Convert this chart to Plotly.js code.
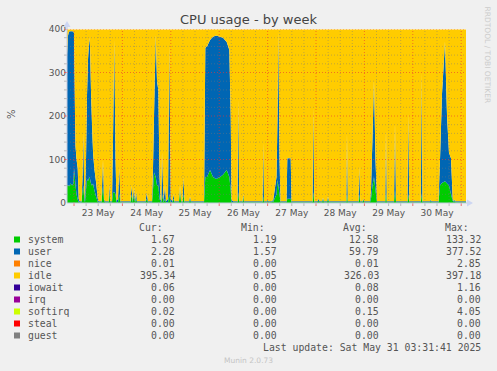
<!DOCTYPE html>
<html><head><meta charset="utf-8">
<script src="https://cdn.plot.ly/plotly-3.0.1.min.js"></script>
<style>html,body{margin:0;padding:0;background:#F0F0F0;}#chart{width:497px;height:371px;}</style>
</head><body><div id="chart"></div>
<script>
// time in fractional days of May 2025
const dayT = [
22.855,22.876,22.897,22.928,22.959,22.986,23.000,23.021,23.031,23.052,23.076,23.097,23.114,23.155,
23.176,23.192,23.211,23.227,23.248,23.269,23.289,23.316,23.331,23.351,23.372,23.393,23.419,23.455,23.490,
23.506,23.568,23.589,23.599,23.620,23.640,23.713,23.729,23.748,23.785,23.806,23.833,23.857,23.878,23.909,
23.936,23.961,24.167,24.188,24.209,24.240,24.260,24.285,24.302,24.477,24.502,24.529,24.612,24.632,24.653,
24.688,24.715,24.742,24.767,24.787,24.804,24.818,24.849,24.880,24.901,24.942,24.969,24.998,25.035,25.052,
25.076,25.169,25.190,25.211,25.242,25.262,25.283,25.376,25.397,25.417,25.686,25.713,25.748,25.810,25.872,
25.934,26.017,26.078,26.155,26.209,26.238,26.254,26.285,26.378,26.395,26.413,26.481,26.498,26.512,26.895,
26.911,26.926,26.988,26.998,27.019,27.081,27.091,27.112,27.184,27.205,27.221,27.246,27.267,27.391,27.407,
27.477,27.494,27.928,27.944,27.963,28.031,28.052,28.072,28.124,28.145,28.165,28.227,28.248,28.269,28.626,
28.640,28.657,28.878,28.895,28.913,28.961,28.977,28.996,29.116,29.136,29.167,29.198,29.229,29.260,29.430,
29.446,29.463,29.612,29.632,29.653,29.890,29.907,29.926,30.165,30.184,30.200,30.355,30.370,30.386,30.531,
30.562,30.603,30.665,30.707,30.748,30.789,30.824,30.845,30.872,30.882,31.099
];
const systemVals = [
40,42,38,45,40,45,80,55,40,20,8,2,1.5,1.5,
30,40,10,2,30,55,50,60,55,45,40,45,30,15,3,
1.5,1.5,30,40,5,1.5,1.5,25,1.5,1.5,25,25,20,2,2,
20,1.5,1.5,20,1.5,20,1.5,10,1.5,1.5,10,1.5,1.5,30,70,
60,40,40,10,2,1.5,20,1.5,10,1.5,2,20,2,1.5,10,
1.5,1.5,30,1.5,1.5,20,1.5,1.5,8,1.5,1.5,60,60,76,60,
55,60,65,76,60,30,2,1.5,1.5,25,1.5,1.5,15,1.5,1.5,
15,1.5,1.5,5,1.5,1.5,5,1.5,20,53,40,20,1.5,1.5,10,
10,1.5,1.5,25,1.5,1.5,5,1.5,1.5,8,1.5,1.5,10,1.5,1.5,
20,1.5,1.5,20,1.5,1.5,8,1.5,1.5,10,40,60,30,1.5,1.5,
25,1.5,1.5,30,1.5,1.5,20,1.5,1.5,20,1.5,1.5,5,1.5,1.5,
40,46,50,45,40,20,5,1.5,5,1.5,1.5
];
const userVals = [
300,343,356,350,355,349,310,145,90,80,72,8,2.3,2.3,
30,120,20,3,70,195,280,320,305,210,140,72,50,33,8,
2.3,2.3,40,59,5,2.3,2.3,16,2.3,2.3,125,350,80,3,8,
60,2.3,2.3,20,2.3,15,2.3,15,2.3,2.3,13,2.3,2.3,50,130,
326,240,220,50,6,2.3,97,2.3,30,2.3,8,343,8,2.3,10,
2.3,2.3,10,2.3,2.3,40,2.3,2.3,7,2.3,2.3,297,300,299,322,
330,322,315,294,292,170,6,2.3,2.3,212,2.3,2.3,5,2.3,2.3,
123,2.3,2.3,3,2.3,2.3,3,2.3,40,147,354,80,2.3,2.3,93,
93,2.3,2.3,193,2.3,2.3,5,2.3,2.3,4,2.3,2.3,5,2.3,2.3,
141,2.3,2.3,63,2.3,2.3,2,2.3,2.3,20,110,223,70,2.3,2.3,
143,2.3,2.3,154,2.3,2.3,185,2.3,2.3,280,2.3,2.3,3,2.3,2.3,
60,204,321,155,75,83,5,2.3,3,2.3,2.3
];
const idleVals = [
59,14,5,4,4,5,9,199,269,299,319,389,395.3,395.3,
339,239,369,394,299,149,69,19,39,144,219,282,319,351,388,
395.3,395.3,329,300,389,395.3,395.3,358,395.3,395.3,249,24,299,394,389,
319,395.3,395.3,359,395.3,364,395.3,374,395.3,395.3,376,395.3,395.3,319,199,
13,119,139,339,391,395.3,282,395.3,359,395.3,389,36,389,395.3,379,
395.3,395.3,359,395.3,395.3,339,395.3,395.3,384,395.3,395.3,42,39,24,17,
14,17,19,29,47,199,391,395.3,395.3,162,395.3,395.3,379,395.3,395.3,
261,395.3,395.3,391,395.3,395.3,391,395.3,339,199,5,299,395.3,395.3,296,
296,395.3,395.3,181,395.3,395.3,389,395.3,395.3,387,395.3,395.3,384,395.3,395.3,
238,395.3,395.3,316,395.3,395.3,389,395.3,395.3,369,249,116,299,395.3,395.3,
231,395.3,395.3,215,395.3,395.3,194,395.3,395.3,99,395.3,395.3,391,395.3,395.3,
299,149,28,199,284,296,389,395.3,391,395.3,395.3
];

const dayTickVals = [23.5,24.5,25.5,26.5,27.5,28.5,29.5,30.5];
const dayTickText = ['23 May','24 May','25 May','26 May','27 May','28 May','29 May','30 May'];
const yTickVals = [0,100,200,300,400];
const yTickText = ['0','100','200','300','400'];

const seriesNames = ['system','user','nice','idle','iowait','irq','softirq','steal','guest'];
const seriesColors = ['#00CC00','#0066B3','#FF8000','#FFCC00','#330099','#990099','#CCFF00','#FF0000','#808080'];
const curVals = [1.67,2.28,0.01,395.34,0.06,0.00,0.02,0.00,0.00];
const minVals = [1.19,1.57,0.00,0.05,0.00,0.00,0.00,0.00,0.00];
const avgVals = [12.58,59.79,0.01,326.03,0.08,0.00,0.15,0.00,0.00];
const maxVals = [133.32,377.52,2.85,397.18,1.16,0.00,4.05,0.00,0.00];

// plot-area geometry (pixels)
const L = 67, R = 466, T = 29, B = 203, W = R - L, H = B - T;
const P = px => (px - L) / W;
const Q = py => (B - py) / H;
const X0 = 22.855, X1 = 31.099;

const stackSeries = [
  {name:'system', y:systemVals, color:'#00CC00'},
  {name:'user', y:userVals, color:'#0066B3'},
  {name:'idle', y:idleVals, color:'#FFCC00'}
];
const traces = stackSeries.map(s => ({
  type:'scatter', x:dayT, y:s.y, name:s.name, stackgroup:'cpu', mode:'none',
  fillcolor:s.color, line:{width:0}, hoverinfo:'skip', showlegend:false
}));

const shapes = [];
const minorCol = 'rgba(120,120,120,0.45)';
const majorCol = 'rgba(235,50,50,0.6)';
const dotDash = '1px,2px';
// vertical grid
for (let q = Math.ceil(X0*4); q/4 <= X1; q++) {
  const t = q/4, major = (q % 4 === 0);
  shapes.push({type:'line', xref:'x', yref:'y', x0:t, x1:t, y0:0, y1:400, layer:'above',
    line:{color: major ? majorCol : minorCol, width:1, dash:dotDash}});
  shapes.push({type:'line', xref:'x', yref:'paper', x0:t, x1:t, y0:0, y1:-3/H, layer:'above',
    line:{color: major ? 'rgba(235,80,80,0.8)' : 'rgba(150,150,150,0.6)', width:1}});
}
// horizontal grid
for (let v = 20; v <= 400; v += 20) {
  const major = (v % 100 === 0);
  shapes.push({type:'line', xref:'paper', yref:'y', x0:0, x1:1, y0:v, y1:v, layer:'above',
    line:{color: major ? majorCol : minorCol, width:1, dash:dotDash}});
  shapes.push({type:'line', xref:'paper', yref:'y', x0:-3/W, x1:0, y0:v, y1:v, layer:'above',
    line:{color: major ? 'rgba(235,80,80,0.8)' : 'rgba(150,150,150,0.6)', width:1}});
}
// axes lines and arrows
const axCol = '#c4cbe0';
shapes.push({type:'line', xref:'paper', yref:'paper', x0:0, x1:P(468), y0:0, y1:0, layer:'above', line:{color:axCol, width:1}});
shapes.push({type:'line', xref:'paper', yref:'paper', x0:0, x1:0, y0:0, y1:Q(25), layer:'above', line:{color:axCol, width:1}});
shapes.push({type:'path', xref:'paper', yref:'paper', layer:'above', fillcolor:'#cdd6f2', line:{width:0},
  path:`M ${P(63.5)},${Q(27)} L ${P(70.5)},${Q(27)} L ${P(67)},${Q(21)} Z`});
shapes.push({type:'path', xref:'paper', yref:'paper', layer:'above', fillcolor:'#cdd6f2', line:{width:0},
  path:`M ${P(467)},${Q(199.5)} L ${P(467)},${Q(206.5)} L ${P(473)},${Q(203)} Z`});

// legend table
const annotations = [];
const monoFont = {family:'DejaVu Sans Mono', size:9.8, color:'#555555'};
const ann = (text, px, py, xanchor, font, extra) => Object.assign({
  xref:'paper', yref:'paper', x:P(px), y:Q(py), text, showarrow:false,
  xanchor, yanchor:'middle', font, borderpad:0
}, extra || {});
const colRight = [175.7, 278, 380, 482];
const headers = ['Cur:','Min:','Avg:','Max:'];
headers.forEach((h,i) => annotations.push(ann(h, colRight[i] - 12, 227.5, 'right', monoFont)));
const cols = [curVals, minVals, avgVals, maxVals];
seriesNames.forEach((n,i) => {
  const yy = 239.5 + 12*i;
  shapes.push({type:'rect', xref:'paper', yref:'paper', x0:P(14), x1:P(20), y0:Q(yy+3), y1:Q(yy-3),
    fillcolor:seriesColors[i], line:{width:0}, layer:'above'});
  annotations.push(ann(n, 26.5, yy, 'left', monoFont));
  cols.forEach((c,j) => annotations.push(ann(c[i].toFixed(2), colRight[j], yy, 'right', monoFont)));
});
annotations.push(ann('Last update: Sat May 31 03:31:41 2025', 482, 347.7, 'right', monoFont));
annotations.push(ann('Munin 2.0.73', 248, 360, 'center', {family:'DejaVu Sans', size:7.5, color:'#c4c4c4'}));
annotations.push(ann('%', 11, 114, 'center', {family:'DejaVu Sans', size:10, color:'#555555'}, {textangle:-90}));
annotations.push(ann('RRDTOOL / TOBI OETIKER', 487, 5, 'center', {family:'DejaVu Sans', size:7.5, color:'#cccccc'}, {textangle:90, yanchor:'top'}));

const layout = {
  width:497, height:371,
  margin:{l:L, r:497-R, t:T, b:371-B, pad:0},
  paper_bgcolor:'#F0F0F0', plot_bgcolor:'#FFFFFF',
  showlegend:false,
  title:{text:'CPU usage - by week', x:0.5, xref:'container', y:1-19.5/371, yref:'container', yanchor:'middle',
    font:{family:'DejaVu Sans', size:13, color:'#444444'}},
  xaxis:{range:[X0, X1], tickvals:dayTickVals, ticktext:dayTickText, showgrid:false, zeroline:false,
    showline:false, ticks:'', ticklabelstandoff:3, tickfont:{family:'DejaVu Sans', size:9, color:'#555555'}, fixedrange:true},
  yaxis:{range:[0,400], tickvals:yTickVals, ticktext:yTickText, showgrid:false, zeroline:false,
    showline:false, ticks:'', tickfont:{family:'DejaVu Sans', size:9, color:'#555555'}, fixedrange:true},
  shapes, annotations
};
Plotly.newPlot('chart', traces, layout, {staticPlot:true, displayModeBar:false});
</script></body></html>
